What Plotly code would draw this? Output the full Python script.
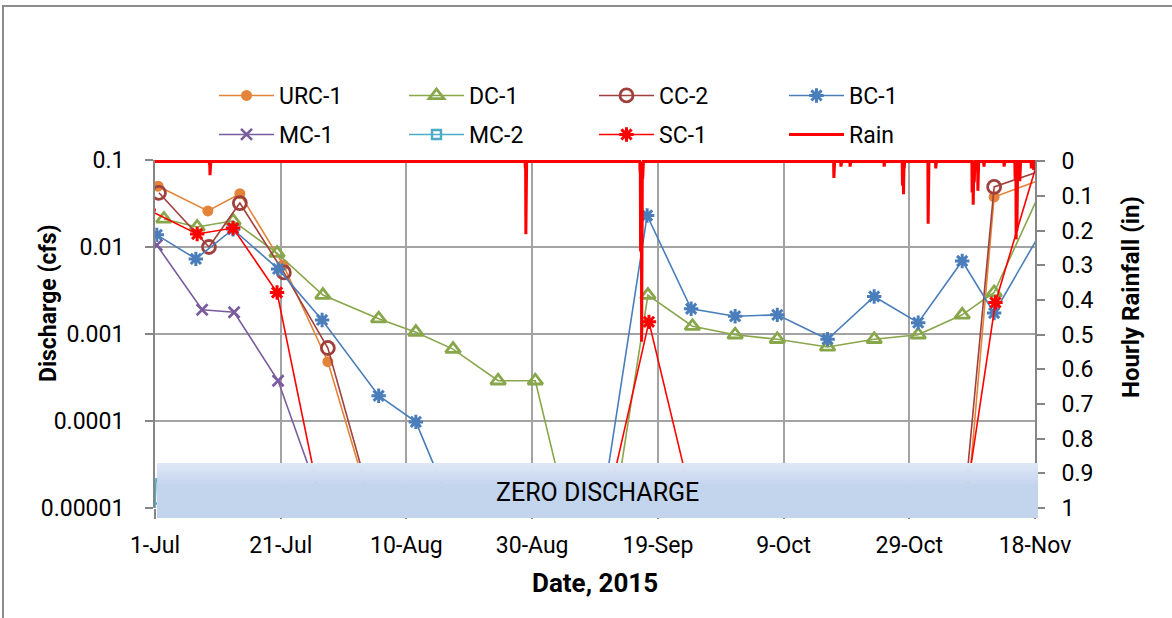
import plotly.graph_objects as go
import pandas as pd

# ---------------- data ----------------
ZERO = 1e-6  # plotting placeholder for "zero discharge" (falls below the axis)

URC1_DATES = ["2015-07-01 12:00", "2015-07-09 10:00", "2015-07-14 12:00", "2015-07-21 10:00",
              "2015-07-28 12:00", "2015-08-08 12:00", "2015-11-06 00:00", "2015-11-11 12:00",
              "2015-11-19 07:00"]
URC1_Q = [0.050, 0.026, 0.041, 0.0062, 0.00048, ZERO, ZERO, 0.0376, 0.0605]

DC1_DATES = ["2015-07-02 10:00", "2015-07-07 17:00", "2015-07-13 10:00", "2015-07-20 10:00",
             "2015-07-27 17:00", "2015-08-05 14:00", "2015-08-11 12:00", "2015-08-17 10:00",
             "2015-08-24 14:00", "2015-08-30 12:00", "2015-09-07 17:00", "2015-09-10 00:00",
             "2015-09-17 10:00", "2015-09-24 12:00", "2015-10-01 07:00", "2015-10-08 00:00",
             "2015-10-16 00:00", "2015-10-23 10:00", "2015-10-30 10:00", "2015-11-06 10:00",
             "2015-11-11 12:00", "2015-11-19 07:00"]
DC1_Q = [0.021, 0.017, 0.020, 0.0085, 0.0028, 0.0015, 0.00105, 0.00067, 0.00029, 0.00029,
         ZERO, ZERO, 0.0028, 0.00123, 0.00098, 0.00087, 0.00071, 0.00087, 0.00098, 0.00166,
         0.0030, 0.0505]

CC2_DATES = ["2015-07-01 15:00", "2015-07-09 14:00", "2015-07-14 12:00", "2015-07-21 12:00",
             "2015-07-28 12:00", "2015-08-08 12:00", "2015-11-05 10:00", "2015-11-11 12:00",
             "2015-11-19 07:00"]
CC2_Q = [0.042, 0.010, 0.032, 0.0051, 0.00069, ZERO, ZERO, 0.049, 0.0767]

BC1_DATES = ["2015-07-01 07:00", "2015-07-07 12:00", "2015-07-13 10:00", "2015-07-20 14:00",
             "2015-07-27 14:00", "2015-08-05 14:00", "2015-08-11 12:00", "2015-08-23 00:00",
             "2015-09-08 00:00", "2015-09-17 07:00", "2015-09-24 07:00", "2015-10-01 07:00",
             "2015-10-08 00:00", "2015-10-16 00:00", "2015-10-23 10:00", "2015-10-30 10:00",
             "2015-11-06 10:00", "2015-11-11 12:00", "2015-11-19 07:00"]
BC1_Q = [0.0138, 0.0073, 0.016, 0.0056, 0.00145, 0.000195, 0.0000977, ZERO, ZERO, 0.023,
         0.00195, 0.0016, 0.00166, 0.00087, 0.0027, 0.00135, 0.0069, 0.00174, 0.0164]

MC1_DATES = ["2015-07-01 07:00", "2015-07-08 12:00", "2015-07-13 14:00", "2015-07-20 14:00",
             "2015-08-01 17:00"]
MC1_Q = [0.0105, 0.0019, 0.00178, 0.00029, ZERO]

MC2_DATES = ["2015-07-01 00:00", "2015-07-01 04:00", "2015-07-09 00:00"]
MC2_Q = [0.00001, 0.000022, ZERO]

SC1_DATES = ["2015-06-30 00:00", "2015-07-07 17:00", "2015-07-13 10:00", "2015-07-20 10:00",
             "2015-07-30 07:00", "2015-09-07 17:00", "2015-09-17 14:00", "2015-09-28 00:00",
             "2015-11-04 17:00", "2015-11-11 17:00", "2015-11-19 07:00"]
SC1_Q = [0.0266, 0.0141, 0.0165, 0.0030, ZERO, ZERO, 0.00138, ZERO, ZERO, 0.0023, 0.158]

# hourly rainfall events (in); all other hours are 0
RAIN_TIMES = ["2015-07-09 16:00", "2015-07-09 18:00", "2015-08-28 22:00", "2015-08-29 00:00",
              "2015-09-16 04:00", "2015-09-16 06:00", "2015-09-16 08:00", "2015-09-16 10:00",
              "2015-09-16 12:00", "2015-09-16 14:00", "2015-10-17 00:00", "2015-10-18 03:00",
              "2015-10-19 14:00", "2015-10-25 00:00", "2015-10-27 22:00", "2015-10-28 02:00",
              "2015-10-28 05:00", "2015-11-01 00:00", "2015-11-02 05:00", "2015-11-08 00:00",
              "2015-11-08 04:00", "2015-11-08 08:00", "2015-11-08 22:00", "2015-11-09 21:00",
              "2015-11-13 02:00", "2015-11-14 20:00", "2015-11-15 00:00", "2015-11-15 03:00",
              "2015-11-15 14:00", "2015-11-17 10:00", "2015-11-17 19:00"]
RAIN_IN = [0.01, 0.04, 0.02, 0.21,
           0.03, 0.26, 0.24, 0.52,
           0.25, 0.05, 0.048, 0.015,
           0.015, 0.015, 0.07, 0.095,
           0.02, 0.18, 0.02, 0.09,
           0.125, 0.06, 0.085, 0.015,
           0.015, 0.05, 0.225, 0.2,
           0.057, 0.02, 0.025]

X_TICKS = ["2015-07-01", "2015-07-21", "2015-08-10", "2015-08-30", "2015-09-19",
           "2015-10-09", "2015-10-29", "2015-11-18"]
X_TICK_TEXT = ["1-Jul", "21-Jul", "10-Aug", "30-Aug", "19-Sep", "9-Oct", "29-Oct", "18-Nov"]
Y_TICKS = [0.00001, 0.0001, 0.001, 0.01, 0.1]
Y_TICK_TEXT = ["0.00001", "0.0001", "0.001", "0.01", "0.1"]
Y2_TICKS = [0, 0.1, 0.2, 0.3, 0.4, 0.5, 0.6, 0.7, 0.8, 0.9, 1]
Y2_TICK_TEXT = ["0", "0.1", "0.2", "0.3", "0.4", "0.5", "0.6", "0.7", "0.8", "0.9", "1"]

# hourly rain series built from the events
hours = pd.date_range("2015-06-30", "2015-11-20", freq="h")
rain = pd.Series(0.0, index=hours)
rain.loc[pd.to_datetime(RAIN_TIMES)] = RAIN_IN

# ---------------- figure ----------------
FONT = "Roboto, 'Liberation Sans', Arial, sans-serif"
W, H = 1172, 618
L, R, T, B = 155, 137, 160, 110
PW, PH = W - L - R, H - T - B

def px_x(x):
    return (x - L) / PW

def px_y(y):
    return (H - B - y) / PH

fig = go.Figure()

def add_series(name, dates, q, color, symbol, size, lw, mline=2.5, legend="legend"):
    fig.add_trace(go.Scatter(
        x=dates, y=q, name=name, mode="lines+markers", legend=legend,
        line=dict(color=color, width=lw),
        marker=dict(symbol=symbol, size=size, color=color,
                    line=dict(color=color, width=mline)),
        cliponaxis=True,
    ))

add_series("URC-1", URC1_DATES, URC1_Q, "#E3843A", "circle", 11, 1.6, 0)
add_series("DC-1", DC1_DATES, DC1_Q, "#88A64A", "triangle-up-open", 13, 1.6, 2.8)
add_series("CC-2", CC2_DATES, CC2_Q, "#A0403C", "circle-open", 13, 1.6, 2.8)
add_series("BC-1", BC1_DATES, BC1_Q, "#4A7EBB", "asterisk-open", 12, 1.6, 3)
add_series("MC-1", MC1_DATES, MC1_Q, "#7A5C9E", "x-thin-open", 11, 1.6, 2.6, legend="legend2")
# MC-2: connecting line (all points) + marker only on the measured (non-zero) sample
fig.add_trace(go.Scatter(
    x=MC2_DATES, y=MC2_Q, name="MC-2", mode="lines", legend="legend2",
    legendgroup="mc2", showlegend=False,
    line=dict(color="#4BACC6", width=1.6),
))
fig.add_trace(go.Scatter(
    x=MC2_DATES[:1], y=MC2_Q[:1], name="MC-2", mode="lines+markers", legend="legend2",
    legendgroup="mc2",
    line=dict(color="#4BACC6", width=1.6),
    marker=dict(symbol="square-open", size=9, color="#4BACC6",
                line=dict(color="#4BACC6", width=2.4)),
))
add_series("SC-1", SC1_DATES, SC1_Q, "#FF0000", "asterisk-open", 12, 1.6, 3, legend="legend2")

fig.add_trace(go.Scatter(
    x=rain.index, y=rain.values, name="Rain", mode="lines", yaxis="y2", legend="legend2",
    line=dict(color="#FF0000", width=3),
))

GRID = "#A3A3A3"
AX = "#868686"

leg_common = dict(orientation="h", xanchor="left", yanchor="top",
                  entrywidth=120, entrywidthmode="pixels", itemwidth=55,
                  font=dict(size=23), bgcolor="rgba(0,0,0,0)")

fig.update_layout(
    width=W, height=H,
    margin=dict(l=L, r=R, t=T, b=B, pad=0),
    paper_bgcolor="white", plot_bgcolor="white",
    font=dict(family=FONT, size=23, color="black"),
    showlegend=True,
    legend=dict(x=px_x(214), y=px_y(74), **leg_common),
    legend2=dict(x=px_x(214), y=px_y(113), **leg_common),
    xaxis=dict(type="date", range=["2015-07-01", "2015-11-18"],
               tickvals=X_TICKS, ticktext=X_TICK_TEXT,
               showgrid=True, gridcolor=GRID, gridwidth=1.6,
               ticks="outside", ticklen=10, tickcolor=AX, tickwidth=1.5,
               ticklabelstandoff=6,
               showline=False, zeroline=False, tickfont=dict(size=23)),
    yaxis=dict(type="log", range=[-5, -1], tickvals=Y_TICKS, ticktext=Y_TICK_TEXT,
               showgrid=True, gridcolor=GRID, gridwidth=1.6,
               ticks="outside", ticklen=8, tickcolor=AX, tickwidth=1.5,
               ticklabelstandoff=16,
               showline=True, linecolor=AX, linewidth=2, zeroline=False,
               tickfont=dict(size=23)),
    yaxis2=dict(overlaying="y", side="right", range=[1, -0.004],
                tickvals=Y2_TICKS, ticktext=Y2_TICK_TEXT,
                showgrid=False, zeroline=False,
                ticks="outside", ticklen=8, tickcolor=AX, tickwidth=1.5,
                ticklabelstandoff=12,
                showline=True, linecolor=AX, linewidth=2,
                tickfont=dict(size=23)),
)

# outer chart border
fig.add_shape(type="rect", xref="paper", yref="paper",
              x0=px_x(3), x1=px_x(1200), y0=px_y(650), y1=px_y(6),
              line=dict(color="#8C8C8C", width=2), fillcolor="rgba(0,0,0,0)", layer="below")

# "zero discharge" band with a light vertical gradient
top_c = (222, 231, 245)
bot_c = (195, 212, 237)
band_top, band_bot = 463, 518
n_strip = 10
grad_h = 24
for i in range(n_strip):
    f = i / (n_strip - 1)
    c = tuple(int(round(top_c[k] + (bot_c[k] - top_c[k]) * f)) for k in range(3))
    y_a = band_top + grad_h * i / n_strip
    y_b = band_top + grad_h * (i + 1) / n_strip + 0.6
    fig.add_shape(type="rect", xref="paper", yref="paper",
                  x0=px_x(157), x1=px_x(1038), y0=px_y(y_b), y1=px_y(y_a),
                  line=dict(width=0), fillcolor="rgb(%d,%d,%d)" % c, layer="above")
fig.add_shape(type="rect", xref="paper", yref="paper",
              x0=px_x(157), x1=px_x(1038), y0=px_y(band_bot), y1=px_y(band_top + grad_h),
              line=dict(width=0), fillcolor="rgb(%d,%d,%d)" % bot_c, layer="above")

ann_common = dict(xref="paper", yref="paper", showarrow=False,
                  xanchor="center", yanchor="middle")
fig.add_annotation(text="ZERO DISCHARGE", x=px_x(597), y=px_y(492),
                   font=dict(size=25, color="black"), **ann_common)

# axis titles
fig.add_annotation(text="<b>Discharge (cfs)</b>", x=px_x(48), y=px_y(303), textangle=-90,
                   font=dict(size=23, color="black"), **ann_common)
fig.add_annotation(text="<b>Hourly Rainfall (in)</b>", x=px_x(1131), y=px_y(297), textangle=-90,
                   font=dict(size=24, color="black"), **ann_common)
fig.add_annotation(text="<b>Date, 2015</b>", x=px_x(595), y=px_y(583),
                   font=dict(size=26, color="black"), **ann_common)

fig.write_html("out.html", config={"displayModeBar": False},
               post_script="document.body.style.margin='0px';")
